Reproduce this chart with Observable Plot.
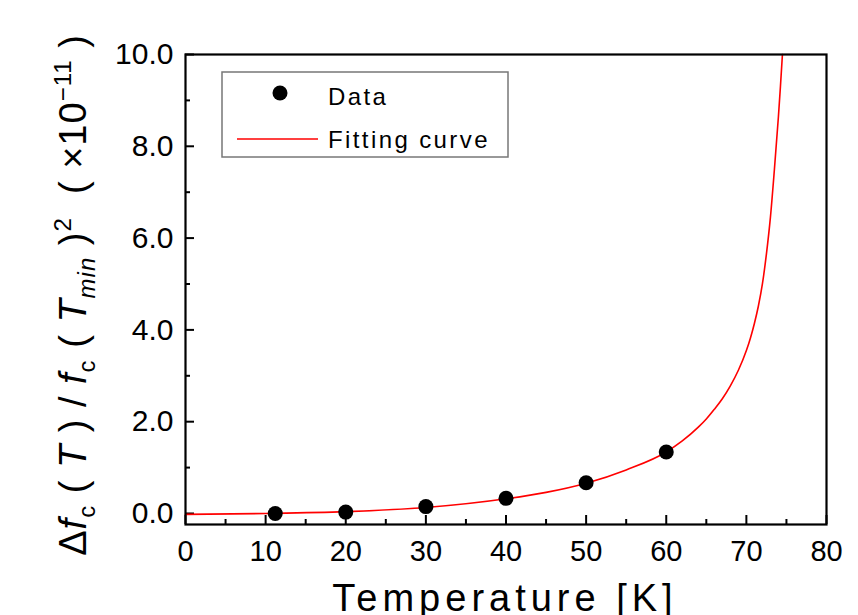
<!DOCTYPE html>
<html>
<head>
<meta charset="utf-8">
<script src="https://cdn.jsdelivr.net/npm/d3@7"></script>
<script src="https://cdn.jsdelivr.net/npm/@observablehq/plot@0.6"></script>
<style>
  html, body { margin: 0; padding: 0; background: #fff; }
  svg { display: block; }
</style>
</head>
<body>
<div id="chart"></div>
<script>
// Measured data points (Temperature [K], value ×10^-11)
const dataT = [11.2, 20, 30, 40, 50, 60];
const dataV = [0.0, 0.03, 0.15, 0.33, 0.67, 1.34];

// Fitting curve
const fitT = [0, 10, 20, 30, 40, 45, 50, 55, 60, 62, 64, 65, 66, 67, 68, 69, 70, 70.5, 71, 71.5, 72, 72.5, 73, 73.5, 74, 74.25, 74.5];
const fitV = [-0.02, 0.0, 0.04, 0.13, 0.32, 0.46, 0.66, 0.95, 1.34, 1.58, 1.88, 2.06, 2.27, 2.5, 2.78, 3.12, 3.55, 3.82, 4.14, 4.52, 5.0, 5.65, 6.45, 7.5, 8.65, 9.3, 10.0];

// Axis ticks
const xMajor = [0, 10, 20, 30, 40, 50, 60, 70, 80];
const xMinor = [5, 15, 25, 35, 45, 55, 65, 75];
const yMajor = [0, 2, 4, 6, 8, 10];
const yMinor = [1, 3, 5, 7, 9];

const points = dataT.map((t, i) => ({t, v: dataV[i]}));
const fit = fitT.map((t, i) => ({t, v: fitV[i]}));

const W = 858, H = 615;
const mL = 185, mR = 32, mT = 54, mB = 91;
const fw = W - mL - mR, fh = H - mT - mB;

const tickFont = "'Liberation Sans', Arial, sans-serif";

const chart = Plot.plot({
  width: W,
  height: H,
  marginLeft: mL,
  marginRight: mR,
  marginTop: mT,
  marginBottom: mB,
  style: {fontFamily: tickFont, background: "#fff", color: "#000"},
  x: {domain: [0, 80]},
  y: {domain: [-0.24, 10]},
  marks: [
    Plot.axisX(xMajor, {tickSize: 0, tickPadding: 16, fontSize: 29, label: null, tickFormat: d3.format("d")}),
    Plot.axisY(yMajor, {tickSize: 0, tickPadding: 12, fontSize: 30, label: null, tickFormat: d3.format(".1f")}),
    Plot.ruleX(xMajor, {x: d => d, insetTop: fh - 9, stroke: "#000", strokeWidth: 2}),
    Plot.ruleX(xMinor, {x: d => d, insetTop: fh - 5, stroke: "#000", strokeWidth: 2}),
    Plot.ruleY(yMajor, {y: d => d, insetRight: fw - 9, stroke: "#000", strokeWidth: 2}),
    Plot.ruleY(yMinor, {y: d => d, insetRight: fw - 5, stroke: "#000", strokeWidth: 2}),
    Plot.line(fit, {x: "t", y: "v", stroke: "#ff0000", strokeWidth: 1.6, curve: "monotone-x"}),
    Plot.dot(points, {x: "t", y: "v", r: 7.5, fill: "#000", stroke: "none"}),
    Plot.frame({stroke: "#000", strokeWidth: 2.2})
  ]
});

document.getElementById("chart").appendChild(chart);

const svg = d3.select(chart);

// X axis title
svg.append("text")
  .attr("x", 505)
  .attr("y", 611)
  .attr("text-anchor", "middle")
  .attr("font-family", tickFont)
  .attr("font-size", 38)
  .attr("letter-spacing", 5)
  .attr("fill", "#000")
  .text("Temperature [K]");

// Y axis title
const yt = svg.append("text")
  .attr("transform", "translate(86,295) rotate(-90)")
  .attr("text-anchor", "middle")
  .attr("font-family", tickFont)
  .attr("font-size", 38)
  .attr("letter-spacing", 1)
  .attr("fill", "#000");
yt.append("tspan").text("Δ");
yt.append("tspan").attr("font-style", "italic").text("f");
yt.append("tspan").attr("font-size", 24).attr("dy", 9).text("c");
yt.append("tspan").attr("dy", -9).text(" ( ");
yt.append("tspan").attr("font-style", "italic").text("T");
yt.append("tspan").text(" ) / ");
yt.append("tspan").attr("font-style", "italic").text("f");
yt.append("tspan").attr("font-size", 24).attr("dy", 9).text("c");
yt.append("tspan").attr("dy", -9).text(" ( ");
yt.append("tspan").attr("font-style", "italic").text("T");
yt.append("tspan").attr("font-size", 24).attr("font-style", "italic").attr("dy", 9).text("min");
yt.append("tspan").attr("dy", -9).text(" )");
yt.append("tspan").attr("font-size", 24).attr("dy", -15).text("2");
yt.append("tspan").attr("dy", 15).text("  ( ×10");
yt.append("tspan").attr("font-size", 24).attr("dy", -15).text("−11");
yt.append("tspan").attr("dy", 15).text(" )");

// Legend
const lg = svg.append("g").attr("text-anchor", "start");
lg.append("rect")
  .attr("x", 222).attr("y", 72).attr("width", 286).attr("height", 85)
  .attr("fill", "#fff").attr("stroke", "#777").attr("stroke-width", 1.5);
lg.append("circle").attr("cx", 280).attr("cy", 93).attr("r", 7.5).attr("fill", "#000");
lg.append("text").attr("x", 328).attr("y", 105)
  .attr("text-anchor", "start")
  .attr("font-family", tickFont).attr("font-size", 24).attr("letter-spacing", 2.4)
  .attr("fill", "#000").text("Data");
lg.append("line").attr("x1", 237).attr("x2", 318).attr("y1", 139).attr("y2", 139)
  .attr("stroke", "#ff0000").attr("stroke-width", 1.6);
lg.append("text").attr("x", 328).attr("y", 148)
  .attr("text-anchor", "start")
  .attr("font-family", tickFont).attr("font-size", 24).attr("letter-spacing", 2.4)
  .attr("fill", "#000").text("Fitting curve");
</script>
</body>
</html>
